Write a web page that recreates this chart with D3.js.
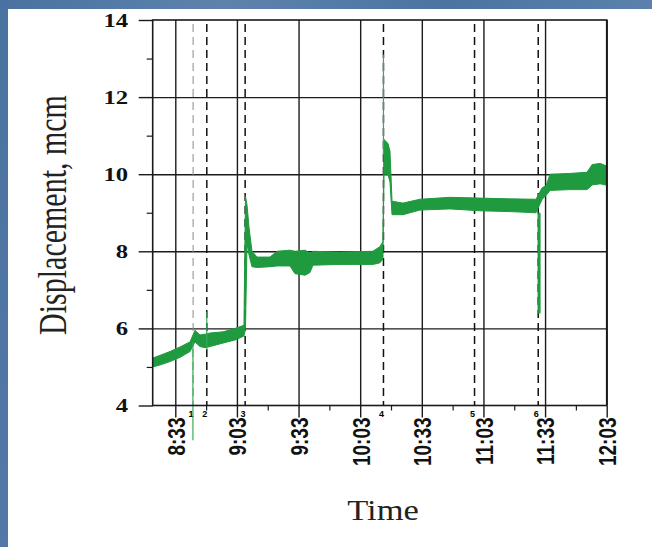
<!DOCTYPE html>
<html lang="en">
<head>
    <meta charset="UTF-8">
    <title>Displacement vs Time</title>
    <script src="https://d3js.org/d3.v7.min.js"></script>
    <style>
        html, body { margin: 0; padding: 0; }
        body {
            width: 652px; height: 547px; overflow: hidden;
            background: linear-gradient(100deg, #4a72a0 0%, #5d83ad 30%, #4c74a1 60%, #6288b1 100%);
        }
        #chart { position: absolute; left: 0; top: 0; }
    </style>
</head>
<body>
    <div id="chart"></div>
    <script>
        // band of the noisy trace: time, lower edge, upper edge (mcm)
        const bandTimes = ["8:22:00", "8:25:30", "8:30:25", "8:35:20", "8:40:10", "8:42:35", "8:45:00", "8:47:30",
            "8:49:55", "8:56:15", "9:02:05", "9:06:25", "9:07:10", "9:07:55", "9:08:55", "9:10:20", "9:12:50",
            "9:19:05", "9:22:30", "9:28:50", "9:31:15", "9:36:10", "9:38:35", "9:40:00", "9:53:10", "10:09:10",
            "10:12:35", "10:14:05", "10:14:35", "10:16:30", "10:17:30", "10:18:30", "10:23:50", "10:32:05",
            "10:46:40", "11:01:20", "11:15:55", "11:28:35", "11:31:35", "11:33:30", "11:35:25", "11:45:05",
            "11:53:25", "11:55:55", "11:59:50", "12:02:40"];
        const bandLow = [5.00, 5.05, 5.14, 5.25, 5.40, 5.65, 5.53, 5.50,
            5.53, 5.62, 5.70, 5.80, 6.00, 8.20, 7.90, 7.60, 7.58,
            7.60, 7.62, 7.62, 7.42, 7.38, 7.45, 7.64, 7.66, 7.66,
            7.70, 7.80, 10.00, 10.00, 9.80, 8.95, 8.95, 9.07,
            9.10, 9.05, 9.03, 9.00, 9.35, 9.45, 9.58, 9.60,
            9.60, 9.72, 9.75, 9.72];
        const bandHigh = [5.23, 5.30, 5.40, 5.52, 5.65, 5.95, 5.83, 5.85,
            5.88, 5.91, 6.00, 6.08, 9.42, 9.20, 8.60, 8.00, 7.85,
            7.85, 8.00, 8.03, 8.00, 8.03, 7.95, 8.00, 7.98, 8.00,
            8.12, 8.25, 10.90, 10.80, 10.60, 9.30, 9.25, 9.35,
            9.40, 9.38, 9.36, 9.35, 9.65, 9.70, 10.00, 10.02,
            10.05, 10.25, 10.28, 10.22];

        // short spikes of the trace
        const spikeTimes = ["8:41:35", "8:48:20", "10:14:20", "11:30:05"];
        const spikeFrom = [5.65, 5.44, 10.50, 9.00];
        const spikeTo = [3.10, 6.43, 13.10, 6.39];
        const spikeWide = [false, false, false, true];

        // numbered events (dashed lines)
        const eventTimes = ["8:41:40", "8:48:20", "9:07:00", "10:14:20", "10:58:40", "11:29:40"];
        const eventLabels = ["1", "2", "3", "4", "5", "6"];

        const timeTicks = ["8:33:00", "9:03:00", "9:33:00", "10:03:00", "10:33:00", "11:03:00", "11:33:00", "12:03:00"];
        const minorTimeTicks = ["8:48:00", "9:18:00", "9:48:00", "10:18:00", "10:48:00", "11:18:00", "11:48:00"];
        const yTicks = [4, 6, 8, 10, 12, 14];
        const yMinorTicks = [5, 7, 9, 11, 13];

        const parse = d3.timeParse("%H:%M:%S");
        const fmt = d3.timeFormat("%-H:%M");
        const stretch = 1.3;

        const margin = { top: 20, left: 152.7 };
        const width = 454;
        const height = 385.5;

        const svg = d3.select("#chart")
            .append("svg")
            .attr("width", 652)
            .attr("height", 547);

        // white slide panel
        svg.append("rect")
            .attr("x", 8).attr("y", 9)
            .attr("width", 652).attr("height", 547)
            .attr("fill", "#ffffff");

        const g = svg.append("g")
            .attr("transform", `translate(${margin.left},${margin.top})`);

        const x = d3.scaleTime()
            .domain([parse("8:22:00"), parse("12:03:00")])
            .range([0, width]);

        const y = d3.scaleLinear()
            .domain([4, 14])
            .range([height, 0]);

        // grid
        g.append("g")
            .call(d3.axisBottom(x).tickValues(timeTicks.map(parse)).tickSize(height).tickFormat(""))
            .call(a => a.select(".domain").remove())
            .selectAll("line").attr("stroke", "#1c1c1c").attr("stroke-width", 1.4);

        g.append("g")
            .call(d3.axisRight(y).tickValues([6, 8, 10, 12]).tickSize(width).tickFormat(""))
            .call(a => a.select(".domain").remove())
            .selectAll("line").attr("stroke", "#1c1c1c").attr("stroke-width", 1.4);

        // event dashed lines
        eventTimes.forEach((t, i) => {
            g.append("line")
                .attr("x1", x(parse(t))).attr("x2", x(parse(t)))
                .attr("y1", 4).attr("y2", height)
                .attr("stroke", i === 0 ? "#8a8a8a" : "#111")
                .attr("stroke-width", i === 0 ? 1 : 1.5)
                .attr("stroke-dasharray", "8,5");
            g.append("text")
                .attr("x", x(parse(t)) - 2)
                .attr("y", height + 11)
                .attr("text-anchor", "middle")
                .style("font", "bold 9px 'Liberation Sans', Arial, sans-serif")
                .text(eventLabels[i]);
        });

        // trace band
        const bandData = bandTimes.map((t, i) => ({ t: parse(t), lo: bandLow[i], hi: bandHigh[i] }));
        const area = d3.area()
            .x(d => x(d.t))
            .y0(d => y(d.lo))
            .y1(d => y(d.hi));

        g.append("path")
            .datum(bandData)
            .attr("d", area)
            .attr("fill", "#1f9a3e")
            .attr("stroke", "#1f9a3e")
            .attr("stroke-width", 1);

        // spikes
        spikeTimes.forEach((t, i) => {
            g.append("line")
                .attr("x1", x(parse(t))).attr("x2", x(parse(t)))
                .attr("y1", y(spikeFrom[i])).attr("y2", y(spikeTo[i]))
                .attr("stroke", spikeWide[i] ? "#1f9a3e" : "#3aa85a")
                .attr("stroke-width", spikeWide[i] ? 3 : 1.2);
        });

        // frame
        g.append("rect")
            .attr("width", width).attr("height", height)
            .attr("fill", "none")
            .attr("stroke", "#1a1a1a")
            .attr("stroke-width", 1.6);

        // y axis
        const yAxis = g.append("g")
            .call(d3.axisLeft(y).tickValues(yTicks).tickSize(14).tickPadding(0));
        yAxis.select(".domain").remove();
        yAxis.selectAll("line").attr("stroke", "#1a1a1a").attr("stroke-width", 1.4);
        yAxis.selectAll("text")
            .attr("x", null).attr("dy", null)
            .attr("transform", `translate(-24.5,0) scale(${stretch},1)`)
            .attr("dy", "0.34em")
            .style("font", "bold 19px 'Liberation Serif', 'Times New Roman', serif")
            .attr("fill", "#111");

        g.append("g")
            .call(d3.axisLeft(y).tickValues(yMinorTicks).tickSize(6).tickFormat(""))
            .call(a => a.select(".domain").remove())
            .selectAll("line").attr("stroke", "#1a1a1a").attr("stroke-width", 1.2);

        // x axis
        const xAxis = g.append("g")
            .attr("transform", `translate(0,${height})`)
            .call(d3.axisBottom(x).tickValues(timeTicks.map(parse)).tickSize(12).tickFormat(fmt));
        xAxis.select(".domain").remove();
        xAxis.selectAll("line").attr("stroke", "#1a1a1a").attr("stroke-width", 1.4);
        xAxis.selectAll("text")
            .attr("y", null).attr("dy", null)
            .attr("transform", `translate(0,12) scale(${stretch},1) rotate(-90)`)
            .attr("dy", "0.36em")
            .attr("text-anchor", "end")
            .style("font", "bold 19px 'Liberation Sans', Arial, sans-serif")
            .attr("fill", "#111");

        g.append("g")
            .attr("transform", `translate(0,${height})`)
            .call(d3.axisBottom(x).tickValues(minorTimeTicks.map(parse)).tickSize(5).tickFormat(""))
            .call(a => a.select(".domain").remove())
            .selectAll("line").attr("stroke", "#1a1a1a").attr("stroke-width", 1.2);

        // axis titles
        svg.append("text")
            .attr("transform", `translate(66,215) scale(${stretch},1) rotate(-90)`)
            .attr("text-anchor", "middle")
            .style("font", "30px 'Liberation Serif', 'Times New Roman', serif")
            .attr("fill", "#222")
            .text("Displacement, mcm");

        svg.append("text")
            .attr("transform", "translate(383,520) scale(1.15,1)")
            .attr("text-anchor", "middle")
            .style("font", "30px 'Liberation Serif', 'Times New Roman', serif")
            .attr("fill", "#222")
            .text("Time");
    </script>
</body>
</html>
